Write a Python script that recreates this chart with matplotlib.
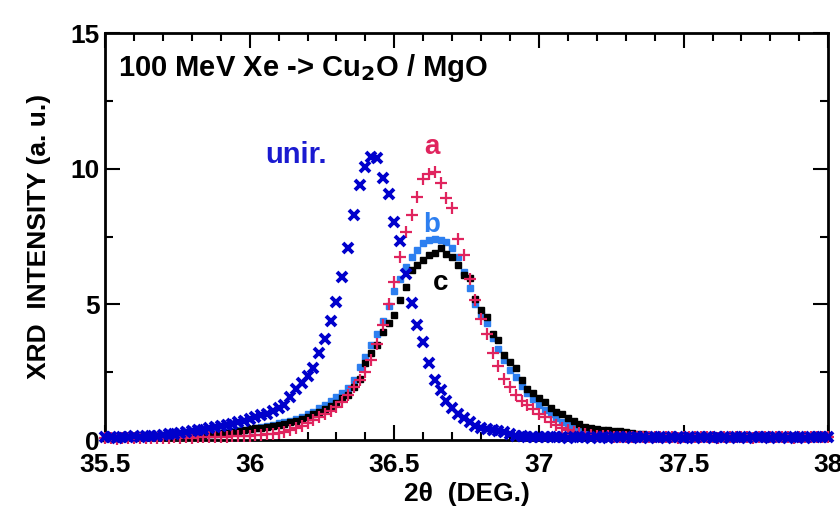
import numpy as np
import matplotlib
matplotlib.use("Agg")
import matplotlib.pyplot as plt
from matplotlib.ticker import MultipleLocator

plt.rcParams['font.family'] = ['Liberation Sans', 'DejaVu Sans']
plt.rcParams['font.weight'] = 'bold'
plt.rcParams['axes.labelweight'] = 'bold'
plt.rcParams['mathtext.default'] = 'bf'

# 2-theta grid (0.02 deg steps, 35.50 .. 38.00)
two_theta = np.round(np.arange(35.50, 38.0001, 0.02), 2)

unir = [0.10, 0.12, 0.09, 0.13, 0.11, 0.14, 0.12, 0.15, 0.14, 0.17,
        0.18, 0.21, 0.23, 0.26, 0.30, 0.32, 0.36, 0.39, 0.43, 0.47,
        0.51, 0.56, 0.61, 0.66, 0.71, 0.77, 0.84, 0.91, 0.98, 1.08,
        1.18, 1.30, 1.60, 1.90, 2.12, 2.35, 2.64, 3.20, 3.71, 4.40,
        5.10, 6.00, 7.10, 8.30, 9.40, 10.05, 10.45, 10.40, 9.65, 9.06,
        8.03, 7.35, 6.14, 5.06, 4.24, 3.62, 2.86, 2.21, 1.84, 1.45,
        1.17, 0.98, 0.80, 0.66, 0.52, 0.45, 0.41, 0.38, 0.35, 0.30,
        0.22, 0.17, 0.14, 0.12, 0.13, 0.11, 0.12, 0.10, 0.12, 0.11,
        0.09, 0.12, 0.10, 0.11, 0.09, 0.12, 0.10, 0.08, 0.11, 0.10,
        0.12, 0.09, 0.10, 0.11, 0.08, 0.12, 0.10, 0.09, 0.11, 0.10,
        0.08, 0.12, 0.09, 0.10, 0.11, 0.09, 0.12, 0.10, 0.08, 0.11,
        0.10, 0.09, 0.12, 0.10, 0.11, 0.08, 0.10, 0.12, 0.09, 0.11,
        0.10, 0.09, 0.11, 0.10, 0.12, 0.10]

sample_a = [0.06, 0.08, 0.05, 0.07, 0.06, 0.08, 0.07, 0.09, 0.06, 0.08,
            0.09, 0.07, 0.10, 0.08, 0.10, 0.09, 0.11, 0.10, 0.12, 0.11,
            0.13, 0.12, 0.14, 0.15, 0.14, 0.16, 0.18, 0.19, 0.21, 0.22,
            0.25, 0.30, 0.36, 0.43, 0.52, 0.62, 0.74, 0.84, 0.95, 1.06,
            1.22, 1.40, 1.65, 1.96, 2.21, 2.52, 2.95, 3.55, 4.24, 5.01,
            5.82, 6.76, 7.66, 8.29, 8.97, 9.61, 9.82, 9.90, 9.48, 8.91,
            8.54, 7.42, 6.82, 5.95, 5.15, 4.45, 3.93, 3.22, 2.73, 2.27,
            1.96, 1.68, 1.45, 1.30, 1.15, 0.98, 0.84, 0.68, 0.56, 0.46,
            0.38, 0.30, 0.26, 0.22, 0.20, 0.17, 0.15, 0.14, 0.12, 0.13,
            0.11, 0.12, 0.10, 0.12, 0.11, 0.13, 0.10, 0.12, 0.11, 0.09,
            0.12, 0.10, 0.13, 0.11, 0.10, 0.12, 0.09, 0.11, 0.13, 0.10,
            0.12, 0.11, 0.09, 0.12, 0.10, 0.13, 0.11, 0.10, 0.12, 0.09,
            0.11, 0.12, 0.10, 0.13, 0.11, 0.10]

sample_b = [0.10, 0.09, 0.11, 0.10, 0.12, 0.10, 0.11, 0.12, 0.13, 0.12,
            0.14, 0.15, 0.16, 0.17, 0.18, 0.19, 0.21, 0.22, 0.24, 0.26,
            0.28, 0.30, 0.33, 0.36, 0.39, 0.42, 0.45, 0.49, 0.53, 0.57,
            0.62, 0.67, 0.72, 0.78, 0.86, 0.95, 1.05, 1.17, 1.30, 1.45,
            1.60, 1.75, 1.92, 2.20, 2.70, 3.05, 3.50, 3.93, 4.40, 4.95,
            5.50, 5.95, 6.40, 6.76, 7.00, 7.25, 7.37, 7.40, 7.37, 7.31,
            7.10, 6.76, 6.20, 5.60, 5.00, 4.60, 4.30, 3.75, 3.35, 2.95,
            2.60, 2.33, 2.00, 1.75, 1.50, 1.30, 1.12, 0.95, 0.80, 0.68,
            0.57, 0.48, 0.40, 0.34, 0.28, 0.24, 0.20, 0.18, 0.16, 0.15,
            0.14, 0.13, 0.12, 0.13, 0.11, 0.12, 0.10, 0.12, 0.11, 0.10,
            0.12, 0.11, 0.09, 0.12, 0.10, 0.11, 0.12, 0.10, 0.09, 0.11,
            0.12, 0.10, 0.11, 0.09, 0.12, 0.10, 0.11, 0.12, 0.10, 0.09,
            0.11, 0.10, 0.12, 0.10, 0.11, 0.10]

sample_c = [0.08, 0.10, 0.09, 0.11, 0.10, 0.09, 0.11, 0.10, 0.12, 0.11,
            0.12, 0.13, 0.14, 0.15, 0.16, 0.17, 0.19, 0.20, 0.22, 0.24,
            0.26, 0.28, 0.31, 0.34, 0.37, 0.40, 0.43, 0.46, 0.49, 0.53,
            0.57, 0.60, 0.65, 0.70, 0.77, 0.86, 0.95, 1.05, 1.15, 1.25,
            1.38, 1.55, 1.66, 1.95, 2.27, 2.83, 3.20, 3.50, 3.99, 4.30,
            4.61, 5.16, 5.65, 6.27, 6.45, 6.63, 6.82, 6.90, 7.07, 6.85,
            6.76, 6.45, 6.08, 5.96, 5.22, 4.79, 4.55, 3.93, 3.69, 3.13,
            2.89, 2.64, 2.21, 1.90, 1.75, 1.55, 1.41, 1.20, 1.05, 0.95,
            0.82, 0.70, 0.60, 0.50, 0.45, 0.42, 0.38, 0.37, 0.34, 0.32,
            0.30, 0.27, 0.24, 0.22, 0.19, 0.17, 0.15, 0.14, 0.13, 0.12,
            0.13, 0.11, 0.12, 0.10, 0.12, 0.11, 0.10, 0.12, 0.11, 0.10,
            0.12, 0.10, 0.11, 0.12, 0.10, 0.11, 0.09, 0.11, 0.12, 0.10,
            0.11, 0.10, 0.12, 0.11, 0.10, 0.11]

col_unir = '#0000cc'
col_a = '#e0245e'
col_b = '#2d7ff0'
col_c = '#000000'

fig = plt.figure(figsize=(8.4, 5.19), dpi=100)
ax = fig.add_axes([0.125, 0.152, 0.861, 0.784])

ax.plot(two_theta, sample_b, ls='none', marker='s', ms=5, color=col_b, clip_on=False, zorder=3)
ax.plot(two_theta, sample_c, ls='none', marker='s', ms=5, color=col_c, clip_on=False, zorder=4)
ax.plot(two_theta, sample_a, ls='none', marker='+', ms=8, mew=1.6, color=col_a, clip_on=False, zorder=5)
ax.plot(two_theta, unir, ls='none', marker='x', ms=6.5, mew=2.8, color=col_unir, clip_on=False, zorder=6)

ax.set_xlim(35.5, 38.0)
ax.set_ylim(0, 15)
ax.xaxis.set_minor_locator(MultipleLocator(0.1))
ax.yaxis.set_minor_locator(MultipleLocator(2.5))
ax.set_xticks([35.5, 36, 36.5, 37, 37.5, 38])
ax.set_xticklabels(['35.5', '36', '36.5', '37', '37.5', '38'])
ax.set_yticks([0, 5, 10, 15])
ax.set_yticklabels(['0', '5', '10', '15'])
ax.tick_params(which='both', direction='in', top=True, right=True, width=1.5,
               labelsize=19)
ax.tick_params(axis='x', pad=9)
ax.tick_params(axis='y', pad=4)
ax.tick_params(which='major', length=11)
ax.tick_params(which='minor', length=6)
for s in ax.spines.values():
    s.set_linewidth(2)

ax.set_xlabel('2\u03b8  (DEG.)', fontsize=19, fontweight='bold', labelpad=4)
ax.set_ylabel('XRD  INTENSITY (a. u.)', fontsize=19, fontweight='bold', labelpad=14)

ax.text(0.018, 0.914, '100 MeV Xe -> Cu$_{2}$O / MgO', transform=ax.transAxes,
        fontsize=21, fontweight='bold', va='center', ha='left')
ax.text(36.16, 10.5, 'unir.', color='#1a1ad0', fontsize=21, fontweight='bold', ha='center', va='center')
ax.text(36.63, 10.8, 'a', color=col_a, fontsize=20, fontweight='bold', ha='center', va='center')
ax.text(36.63, 7.92, 'b', color=col_b, fontsize=20, fontweight='bold', ha='center', va='center')
ax.text(36.66, 5.79, 'c', color=col_c, fontsize=20, fontweight='bold', ha='center', va='center')

fig.savefig('out.png', dpi=100)
